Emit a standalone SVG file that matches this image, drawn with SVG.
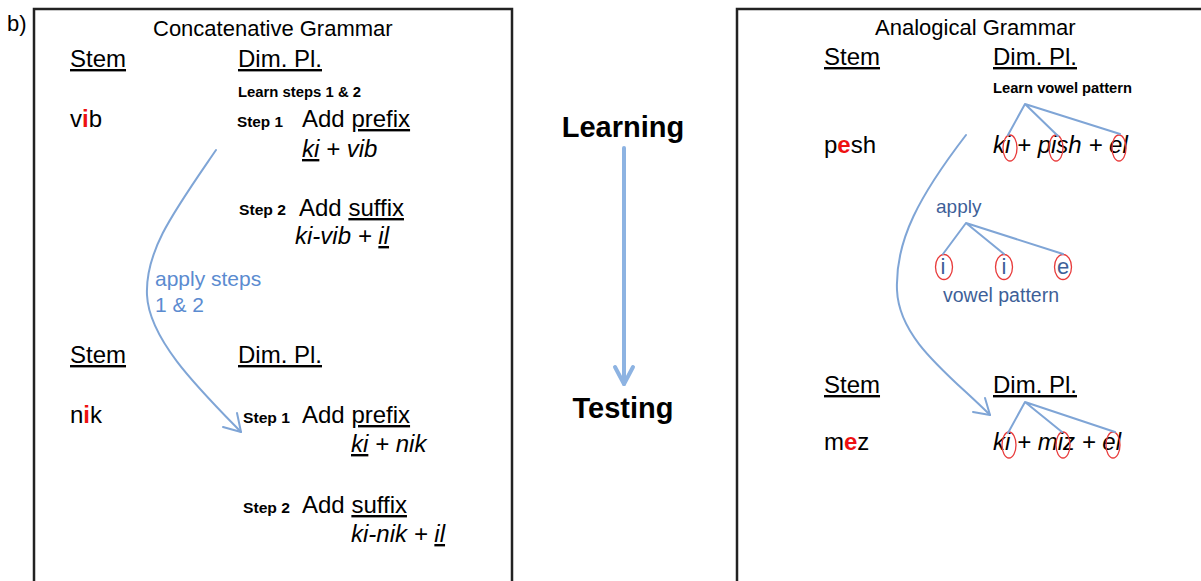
<svg xmlns="http://www.w3.org/2000/svg" width="1201" height="581" viewBox="0 0 1201 581">
<style>
text{font-family:"Liberation Sans",Arial,sans-serif;fill:#000}
.t22{font-size:22px}
.t24{font-size:24px}
.it{font-style:italic}
.sm{font-size:14px;font-weight:bold}
.big{font-size:29px;font-weight:bold}
.u{text-decoration:underline}
.red{fill:#ee1111;font-weight:bold}
.lb{fill:#5b8bd0;font-size:21px}
.db{fill:#3e5f98;font-size:19px}
.vw{fill:#3e5f98;font-size:22px}
.box{fill:none;stroke:#222;stroke-width:2.5}
.con{fill:none;stroke:#7fa5d6;stroke-width:2;stroke-linecap:round;stroke-linejoin:round}
.ell{fill:none;stroke:#e83a3a;stroke-width:1.3}
</style>
<rect width="1201" height="581" fill="#fff"/>
<text x="7" y="31" style="font-size:22px">b)</text>

<g id="concatenative-panel">
<path class="box" d="M34,600 V9 H512 V600"/>
<text class="t22" x="153" y="36">Concatenative Grammar</text>
<text class="t24 u" x="70" y="67">Stem</text>
<text class="t24 u" x="238" y="67">Dim. Pl.</text>
<text class="sm" x="238" y="97" textLength="123" lengthAdjust="spacingAndGlyphs">Learn steps 1 &amp; 2</text>
<text class="t24" x="70" y="127">v<tspan class="red">i</tspan>b</text>
<text class="sm" x="237" y="127" textLength="46" lengthAdjust="spacingAndGlyphs">Step 1</text>
<text class="t24" x="302" y="127">Add <tspan class="u">prefix</tspan></text>
<text class="t24 it" x="302" y="157"><tspan class="u">ki</tspan> + vib</text>
<text class="sm" x="239" y="215" textLength="47" lengthAdjust="spacingAndGlyphs">Step 2</text>
<text class="t24" x="299" y="216">Add <tspan class="u">suffix</tspan></text>
<text class="t24 it" x="295" y="244">ki-vib + <tspan class="u">il</tspan></text>
<text class="lb" x="155" y="286">apply steps</text>
<text class="lb" x="155" y="312">1 &amp; 2</text>
<text class="t24 u" x="70" y="363">Stem</text>
<text class="t24 u" x="238" y="363">Dim. Pl.</text>
<text class="t24" x="70" y="423">n<tspan class="red">i</tspan>k</text>
<text class="sm" x="243" y="423" textLength="47" lengthAdjust="spacingAndGlyphs">Step 1</text>
<text class="t24" x="302" y="423">Add <tspan class="u">prefix</tspan></text>
<text class="t24 it" x="351" y="452"><tspan class="u">ki</tspan> + nik</text>
<text class="sm" x="243" y="513" textLength="47" lengthAdjust="spacingAndGlyphs">Step 2</text>
<text class="t24" x="302" y="513">Add <tspan class="u">suffix</tspan></text>
<text class="t24 it" x="351" y="542">ki-nik + <tspan class="u">il</tspan></text>
</g>

<g id="phase-labels">
<text class="big" x="623" y="137" text-anchor="middle">Learning</text>
<text class="big" x="623" y="418" text-anchor="middle">Testing</text>
</g>

<g id="analogical-panel">
<path class="box" d="M737,600 V9 H1210"/>
<text class="t22" x="875" y="35">Analogical Grammar</text>
<text class="t24 u" x="824" y="65">Stem</text>
<text class="t24 u" x="993" y="65">Dim. Pl.</text>
<text class="sm" x="993" y="93" textLength="139" lengthAdjust="spacingAndGlyphs">Learn vowel pattern</text>
<text class="t24" x="824" y="153">p<tspan class="red">e</tspan>sh</text>
<text class="t24 it" x="993" y="153">ki + pish + el</text>
<ellipse class="ell" cx="1010" cy="148" rx="7" ry="13"/>
<ellipse class="ell" cx="1056" cy="148" rx="7" ry="13"/>
<ellipse class="ell" cx="1119" cy="148" rx="7" ry="13"/>
<text class="db" x="936" y="213">apply</text>
<text class="vw" x="943" y="274" text-anchor="middle">i</text>
<text class="vw" x="1004" y="274" text-anchor="middle">i</text>
<text class="vw" x="1063" y="274" text-anchor="middle">e</text>
<ellipse class="ell" cx="944" cy="267" rx="8.5" ry="12.5"/>
<ellipse class="ell" cx="1004" cy="267" rx="8.5" ry="12.5"/>
<ellipse class="ell" cx="1063" cy="267" rx="8.5" ry="12.5"/>
<text class="db" x="943" y="302" style="font-size:19.5px">vowel pattern</text>
<text class="t24 u" x="824" y="393">Stem</text>
<text class="t24 u" x="993" y="393">Dim. Pl.</text>
<text class="t24" x="824" y="450">m<tspan class="red">e</tspan>z</text>
<text class="t24 it" x="993" y="450">ki + miz + el</text>
<ellipse class="ell" cx="1009" cy="445" rx="7" ry="13"/>
<ellipse class="ell" cx="1063" cy="445" rx="7" ry="13"/>
<ellipse class="ell" cx="1113" cy="445" rx="7" ry="13"/>
</g>

<g id="connectors">
<path class="con" d="M216,150 C175,210 145,250 147,295 C149,340 200,390 241,432"/>
<polyline class="con" points="237,413 241,432 223,427"/>
<path class="con" d="M624,148 V384" style="stroke:#8db3e2;stroke-width:4"/>
<polyline class="con" points="615,367 624,384 633,367" style="stroke:#8db3e2;stroke-width:4"/>
<path class="con" d="M966,135 C920,195 895,240 897,290 C899,340 950,375 990,415"/>
<polyline class="con" points="985,398 990,415 973,412"/>
<path class="con" d="M1008,135 L1025,104 L1058,136 M1025,104 L1120,134"/>
<path class="con" d="M943,254 L966,223 L1004,254 M966,223 L1063,254"/>
<path class="con" d="M1008,433 L1025,402 L1062,432 M1025,402 L1115,432"/>
</g>
</svg>
